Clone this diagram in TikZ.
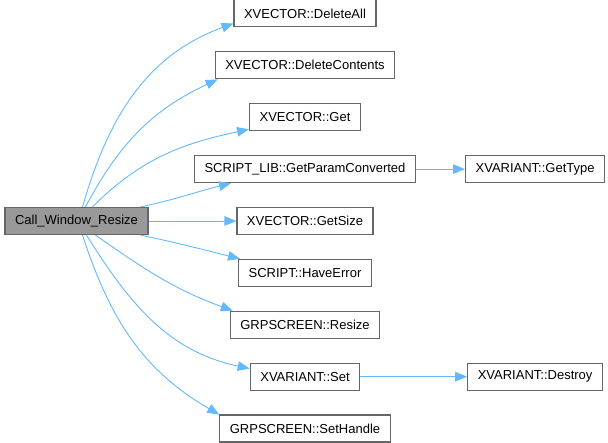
\documentclass[tikz,border=0pt]{standalone}
\usepackage{fontspec}
\setmainfont{Liberation Sans}
\usetikzlibrary{arrows.meta,positioning}
\definecolor{edgeblue}{HTML}{63B8FF}
\definecolor{framegray}{HTML}{666666}
\definecolor{rootgray}{HTML}{999999}

\begin{document}
\begin{tikzpicture}[
      x=1pt, y=1pt,
      font=\fontsize{13}{15}\selectfont,
      fn/.style={draw=framegray, line width=1.2pt, fill=white, inner xsep=10pt, inner ysep=0pt, minimum height=27pt},
      rootfn/.style={fn, fill=rootgray},
      call/.style={-{Triangle[length=12pt, width=9.5pt]}, draw=edgeblue, line width=0.9pt},
      node distance=23.7pt and 49pt
    ]
      \useasboundingbox (0,0) rectangle (608,-443);
      \node[rootfn] (root) at (76.5,-221) {Call\_Window\_Resize};
      \node[fn] (getsize) at (305,-221) {XVECTOR::GetSize};
      \node[fn, above=of getsize] (getparam) {SCRIPT\_LIB::GetParamConverted};
      \node[fn, above=of getparam] (get) {XVECTOR::Get};
      \node[fn, above=of get] (delcont) {XVECTOR::DeleteContents};
      \node[fn, above=of delcont] (deleteall) {XVECTOR::DeleteAll};
      \node[fn, below=of getsize] (haveerror) {SCRIPT::HaveError};
      \node[fn, below=of haveerror] (resize) {GRPSCREEN::Resize};
      \node[fn, below=of resize] (set) {XVARIANT::Set};
      \node[fn, below=of set] (sethandle) {GRPSCREEN::SetHandle};
      \node[fn, right=of getparam] (gettype) {XVARIANT::GetType};
      \node[fn] (destroy) at (gettype |- set) {XVARIANT::Destroy};

      \draw[call] ([xshift=6pt]root.north) to[out=74, in=200] ([yshift=4pt]deleteall.south west);
      \draw[call] ([xshift=9pt]root.north) to[out=62, in=205] ([xshift=3pt]delcont.south west);
      \draw[call] ([xshift=16pt]root.north) to[out=45, in=192] ([yshift=2pt]get.south west);
      \draw[call] ([xshift=-8pt]root.north east) to[out=12, in=194] ([xshift=37pt]getparam.south west);
      \draw[call] (root) -- (getsize);
      \draw[call] ([xshift=-8pt]root.south east) to[out=-12, in=166] ([xshift=2pt]haveerror.north west);
      \draw[call] ([xshift=19pt]root.south) to[out=-35, in=160] ([xshift=3pt]resize.north west);
      \draw[call] ([xshift=10pt]root.south) to[out=-58, in=168] ([yshift=-6pt]set.north west);
      \draw[call] ([xshift=6pt]root.south) to[out=-72, in=150] (sethandle.north west);
      \draw[call] (getparam) -- (gettype);
      \draw[call] (set) -- (destroy);
    \end{tikzpicture}
\end{document}
